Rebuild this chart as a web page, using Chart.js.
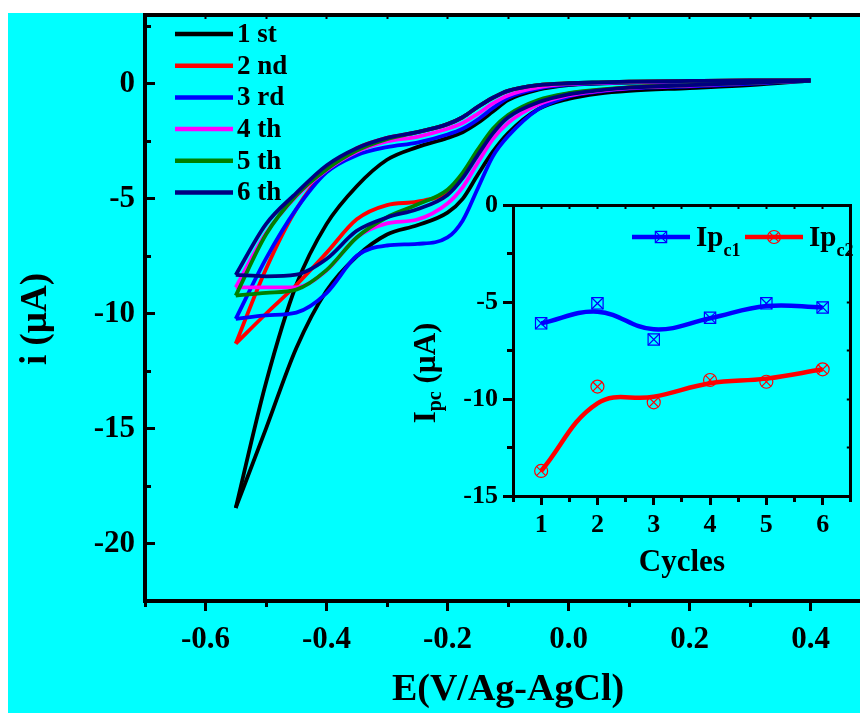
<!DOCTYPE html>
<html>
<head>
<meta charset="utf-8">
<script src="https://cdn.jsdelivr.net/npm/chart.js@4.4.1/dist/chart.umd.min.js"></script>
<style>
  html, body { margin: 0; padding: 0; background: #fff; overflow: hidden; }
  #plate { position: absolute; left: 8px; top: 13px; width: 860px; height: 700px; background: #00ffff; }
  #cv { position: absolute; left: 0; top: 0; }
  #inset { position: absolute; left: 400px; top: 190px; }
</style>
</head>
<body>
<div id="plate"></div>
<canvas id="cv" width="880" height="713"></canvas>
<canvas id="inset" width="460" height="400"></canvas>
<script>
// potential grid shared by both sweep branches (V vs Ag/AgCl)
const potential = [-0.55, -0.5, -0.45, -0.4, -0.35, -0.3, -0.25, -0.2, -0.175, -0.15, -0.125, -0.1, -0.05, 0, 0.05, 0.1, 0.2, 0.3, 0.4];

const cycleLabels = ['1 st', '2 nd', '3 rd', '4 th', '5 th', '6 th'];
const cycleColors = ['#000000', '#ff0000', '#0000ff', '#ff00ff', '#008000', '#000080'];

// cathodic sweep current (uA)
const fwd1 = [-18.45, -15.0, -11.5, -9.0, -7.5, -6.55, -6.15, -5.6, -5.0, -3.95, -2.95, -2.15, -1.1, -0.65, -0.42, -0.3, -0.18, -0.05, 0.15];
const fwd2 = [-11.3, -10.0, -8.75, -7.35, -5.89, -5.27, -5.12, -4.7, -3.95, -3.0, -2.05, -1.4, -0.75, -0.42, -0.27, -0.15, -0.05, 0.05, 0.15];
const fwd3 = [-10.22, -10.07, -9.95, -9.1, -7.48, -7.03, -6.96, -6.68, -5.95, -4.55, -3.15, -2.28, -1.1, -0.55, -0.33, -0.2, -0.1, 0.0, 0.15];
const fwd4 = [-8.85, -8.85, -8.85, -8.12, -6.68, -6.07, -5.9, -5.2, -4.5, -3.43, -2.4, -1.7, -0.9, -0.5, -0.3, -0.18, -0.07, 0.05, 0.15];
const fwd5 = [-9.21, -9.09, -8.95, -8.1, -6.68, -5.8, -5.25, -4.6, -3.87, -2.86, -1.95, -1.35, -0.7, -0.4, -0.25, -0.15, -0.05, 0.05, 0.15];
const fwd6 = [-8.31, -8.37, -8.3, -7.62, -6.39, -5.81, -5.45, -4.83, -4.1, -3.1, -2.15, -1.46, -0.8, -0.45, -0.28, -0.16, -0.05, 0.05, 0.15];

// return sweep current (uA)
const rev1 = [-18.45, -13.0, -8.75, -6.1, -4.45, -3.3, -2.75, -2.35, -2.1, -1.7, -1.2, -0.7, -0.25, -0.05, 0.02, 0.06, 0.1, 0.13, 0.15];
const rev2 = [-11.3, -8.05, -5.45, -3.75, -2.8, -2.35, -2.1, -1.75, -1.45, -1.0, -0.6, -0.3, -0.05, 0.02, 0.06, 0.1, 0.13, 0.15, 0.15];
const rev3 = [-10.22, -7.6, -5.45, -3.85, -3.1, -2.75, -2.55, -2.2, -1.95, -1.55, -1.05, -0.6, -0.2, -0.03, 0.03, 0.07, 0.1, 0.13, 0.15];
const rev4 = [-8.85, -6.5, -4.9, -3.75, -2.95, -2.5, -2.3, -1.95, -1.7, -1.3, -0.85, -0.5, -0.15, 0.0, 0.05, 0.08, 0.12, 0.14, 0.15];
const rev5 = [-9.21, -6.55, -4.85, -3.72, -2.9, -2.4, -2.1, -1.75, -1.45, -1.0, -0.6, -0.3, -0.05, 0.03, 0.07, 0.1, 0.13, 0.15, 0.15];
const rev6 = [-8.31, -6.1, -4.75, -3.55, -2.8, -2.35, -2.1, -1.75, -1.45, -1.0, -0.6, -0.3, -0.05, 0.03, 0.07, 0.1, 0.13, 0.15, 0.15];

const xMajor = [-0.6, -0.4, -0.2, 0.0, 0.2, 0.4];
const xMinor = [-0.7, -0.5, -0.3, -0.1, 0.1, 0.3, 0.5];
const yMajor = [-20, -15, -10, -5, 0];
const yMinor = [-22.5, -17.5, -12.5, -7.5, -2.5, 2.5];

// inset: cathodic peak currents per cycle
const cycles = [1, 2, 3, 4, 5, 6];
const ipc1 = [-6.1, -5.07, -6.93, -5.81, -5.07, -5.28];
const ipc2 = [-13.71, -9.36, -10.17, -9.02, -9.11, -8.47];
// smoothed trend lines
const ipc1Fit = [-6.1, -5.5, -6.41, -5.84, -5.21, -5.28];
const ipc2Fit = [-13.71, -10.22, -9.88, -9.19, -8.95, -8.47];
const seriesNames = [['Ip', 'c1'], ['Ip', 'c2']];

const insetYMajor = [-15, -10, -5, 0];
const insetYMinor = [-12.5, -7.5, -2.5];
const insetXMinor = [0.5, 1.5, 2.5, 3.5, 4.5, 5.5, 6.5];
const insetYAll = [-15, -12.5, -10, -7.5, -5, -2.5, 0];

const black = '#000';
const serif = 'Liberation Serif';

function ticksAt(values) {
  return scale => { scale.ticks = values.map(value => ({ value })); };
}

// pin an axis box to a fixed size and drop the label overhang padding
function boxSize(w, h) {
  return s => {
    if (w !== null) s.width = w;
    if (h !== null) s.height = h;
    s.paddingTop = s.paddingBottom = s.paddingLeft = s.paddingRight = 0;
  };
}

function markAxis(opts) {
  // an unlabelled axis that only carries tick marks
  return Object.assign({
    type: 'linear',
    border: { display: false },
    grid: { drawOnChartArea: false, tickWidth: 3, tickColor: black },
    ticks: { display: false }
  }, opts);
}

// draws a run of text pieces (some lowered as subscripts) around a centre point
function drawRich(ctx, runs, cx, cy, angle) {
  ctx.save();
  ctx.translate(cx, cy);
  ctx.rotate(angle);
  ctx.fillStyle = black;
  ctx.textBaseline = 'middle';
  let total = 0;
  runs.forEach(r => {
    ctx.font = `bold ${r.size}px "${serif}"`;
    r.w = ctx.measureText(r.text).width;
    total += r.w;
  });
  let x = -total / 2;
  runs.forEach(r => {
    ctx.font = `bold ${r.size}px "${serif}"`;
    ctx.fillText(r.text, x, r.shift || 0);
    x += r.w;
  });
  ctx.restore();
}

const cvDatasets = [];
[fwd1, fwd2, fwd3, fwd4, fwd5, fwd6].forEach((branch, k) => {
  const back = [rev1, rev2, rev3, rev4, rev5, rev6][k];
  [branch, back].forEach(b => {
    cvDatasets.push({
      data: potential.map((e, i) => ({ x: e, y: b[i] })),
      borderColor: cycleColors[k],
      backgroundColor: cycleColors[k],
      borderWidth: 3.8,
      pointRadius: 0,
      cubicInterpolationMode: 'monotone',
      order: 6 - k
    });
  });
});

const cycleKey = {
  id: 'cycleKey',
  afterDraw(chart) {
    const { ctx, chartArea } = chart;
    const x0 = chartArea.left + 30;
    ctx.save();
    cycleLabels.forEach((label, k) => {
      const y = chartArea.top + 19 + k * 31.7;
      ctx.strokeStyle = cycleColors[k];
      ctx.lineWidth = 4.5;
      ctx.beginPath();
      ctx.moveTo(x0, y);
      ctx.lineTo(x0 + 58, y);
      ctx.stroke();
      ctx.fillStyle = black;
      ctx.font = `bold 27px "${serif}"`;
      ctx.textBaseline = 'middle';
      ctx.fillText(label, x0 + 62, y + 1);
    });
    ctx.restore();
    drawRich(ctx, [{ text: 'i (\u00b5A)', size: 37 }], 36, chartArea.top + 304, -Math.PI / 2);
  }
};

new Chart(document.getElementById('cv'), {
  type: 'line',
  data: { datasets: cvDatasets },
  options: {
    responsive: false,
    animation: false,
    devicePixelRatio: 1,
    layout: { padding: { right: 9 } },
    plugins: { legend: { display: false }, tooltip: { enabled: false } },
    scales: {
      x: {
        type: 'linear', position: 'bottom', weight: 1, min: -0.7, max: 0.5,
        afterBuildTicks: ticksAt(xMajor),
        afterFit: boxSize(null, 112),
        border: { color: black, width: 4 },
        grid: { drawOnChartArea: false, tickLength: 10, tickWidth: 3, tickColor: black },
        ticks: { color: black, font: { family: serif, size: 31, weight: 'bold' }, padding: 10, maxRotation: 0, autoSkip: false, callback: v => v.toFixed(1) },
        title: { display: true, text: 'E(V/Ag-AgCl)', color: black, font: { family: serif, size: 38, weight: 'bold' }, padding: { top: 0, bottom: 0 } }
      },
      xMinor: markAxis({
        position: 'bottom', weight: 0, min: -0.7, max: 0.5,
        afterBuildTicks: ticksAt(xMinor),
        afterFit: boxSize(null, 0),
        grid: { drawOnChartArea: false, tickLength: 6, tickWidth: 3, tickColor: black }
      }),
      xTop: markAxis({
        position: 'top', min: -0.7, max: 0.5,
        afterBuildTicks: ticksAt(xMajor.concat(xMinor)),
        afterFit: boxSize(null, 15),
        border: { color: black, width: 4 },
        grid: { drawOnChartArea: false, tickLength: -4, tickWidth: 2, tickColor: black }
      }),
      y: {
        type: 'linear', position: 'left', weight: 1, min: -22.5, max: 3,
        afterBuildTicks: ticksAt(yMajor),
        afterFit: boxSize(145, null),
        border: { color: black, width: 4 },
        grid: { drawOnChartArea: false, tickLength: -10, tickWidth: 3, tickColor: black },
        ticks: { color: black, font: { family: serif, size: 31, weight: 'bold' }, padding: 20, callback: v => String(v) }
      },
      yMinor: markAxis({
        position: 'left', weight: 0, min: -22.5, max: 3,
        afterBuildTicks: ticksAt(yMinor),
        afterFit: boxSize(0, null),
        grid: { drawOnChartArea: false, tickLength: -6, tickWidth: 3, tickColor: black }
      })
    }
  },
  plugins: [cycleKey]
});

// ---------- inset ----------
const seriesColors = ['#0000ff', '#ff0000'];
const seriesMarks = ['rect', 'circle'];
const markRadius = [8, 6.5];

const insetDatasets = [];
[ipc1Fit, ipc2Fit].forEach((fit, k) => {
  insetDatasets.push({
    data: cycles.map((c, i) => ({ x: c, y: fit[i] })),
    borderColor: seriesColors[k], borderWidth: 4.5, pointRadius: 0, tension: 0.4, order: 3
  });
});
[ipc1, ipc2].forEach((pts, k) => {
  [seriesMarks[k], 'crossRot'].forEach(style => {
    insetDatasets.push({
      data: cycles.map((c, i) => ({ x: c, y: pts[i] })),
      showLine: false,
      pointStyle: style,
      pointRadius: markRadius[k],
      pointBorderWidth: 1.2,
      pointBorderColor: seriesColors[k],
      pointBackgroundColor: 'rgba(0,0,0,0)',
      order: 1
    });
  });
});

const insetKey = {
  id: 'insetKey',
  afterDraw(chart) {
    const { ctx, chartArea } = chart;
    const y = chartArea.top + 32;
    const starts = [chartArea.left + 119, chartArea.left + 232];
    seriesNames.forEach((name, k) => {
      const x0 = starts[k];
      ctx.save();
      ctx.strokeStyle = seriesColors[k];
      ctx.lineWidth = 4.5;
      ctx.beginPath();
      ctx.moveTo(x0, y);
      ctx.lineTo(x0 + 58, y);
      ctx.stroke();
      ctx.fillStyle = 'rgba(0,0,0,0)';
      ctx.lineWidth = 1.2;
      [seriesMarks[k], 'crossRot'].forEach(style => {
        Chart.helpers.drawPoint(ctx, { pointStyle: style, radius: markRadius[k], borderWidth: 1.2, rotation: 0 }, x0 + 29, y);
      });
      ctx.fillStyle = black;
      ctx.textBaseline = 'alphabetic';
      ctx.font = `bold 29px "${serif}"`;
      ctx.fillText(name[0], x0 + 64, y + 9);
      const w = ctx.measureText(name[0]).width;
      ctx.font = `bold 18px "${serif}"`;
      ctx.fillText(name[1], x0 + 64 + w, y + 19);
      ctx.restore();
    });
    drawRich(ctx, [
      { text: 'I', size: 31 },
      { text: 'pc', size: 20, shift: 9 },
      { text: ' (\u00b5A)', size: 31 }
    ], 27, chartArea.top + 168, -Math.PI / 2);
  }
};

new Chart(document.getElementById('inset'), {
  type: 'line',
  data: { datasets: insetDatasets },
  options: {
    responsive: false,
    animation: false,
    devicePixelRatio: 1,
    plugins: { legend: { display: false }, tooltip: { enabled: false } },
    scales: {
      x: {
        type: 'linear', position: 'bottom', weight: 1, min: 0.5, max: 6.5,
        afterBuildTicks: ticksAt(cycles),
        afterFit: boxSize(null, 94),
        border: { color: black, width: 3 },
        grid: { drawOnChartArea: false, tickLength: 9, tickWidth: 3, tickColor: black },
        ticks: { color: black, font: { family: serif, size: 26, weight: 'bold' }, padding: 5, maxRotation: 0, autoSkip: false, callback: v => String(v) },
        title: { display: true, text: 'Cycles', color: black, font: { family: serif, size: 31, weight: 'bold' }, padding: { top: 0, bottom: 8 } }
      },
      xMinor: markAxis({
        position: 'bottom', weight: 0, min: 0.5, max: 6.5,
        afterBuildTicks: ticksAt(insetXMinor),
        afterFit: boxSize(null, 0),
        grid: { drawOnChartArea: false, tickLength: 6, tickWidth: 3, tickColor: black }
      }),
      xTop: markAxis({
        position: 'top', min: 0.5, max: 6.5,
        afterBuildTicks: ticksAt(cycles.concat(insetXMinor)),
        afterFit: boxSize(null, 15),
        border: { color: black, width: 3 },
        grid: { drawOnChartArea: false, tickLength: -4, tickWidth: 2, tickColor: black }
      }),
      y: {
        type: 'linear', position: 'left', weight: 1, min: -15, max: 0,
        afterBuildTicks: ticksAt(insetYMajor),
        afterFit: boxSize(113, null),
        border: { color: black, width: 3 },
        grid: { drawOnChartArea: false, tickLength: 10, tickWidth: 3, tickColor: black },
        ticks: { color: black, font: { family: serif, size: 26, weight: 'bold' }, padding: 5, callback: v => String(v) }
      },
      yMinor: markAxis({
        position: 'left', weight: 0, min: -15, max: 0,
        afterBuildTicks: ticksAt(insetYMinor),
        afterFit: boxSize(0, null),
        grid: { drawOnChartArea: false, tickLength: 6, tickWidth: 3, tickColor: black }
      }),
      yRight: markAxis({
        position: 'right', min: -15, max: 0,
        afterBuildTicks: ticksAt(insetYAll),
        afterFit: boxSize(3, null),
        border: { color: black, width: 3 },
        grid: { drawOnChartArea: false, tickLength: -4, tickWidth: 2, tickColor: black }
      })
    }
  },
  plugins: [insetKey]
});
</script>
</body>
</html>
